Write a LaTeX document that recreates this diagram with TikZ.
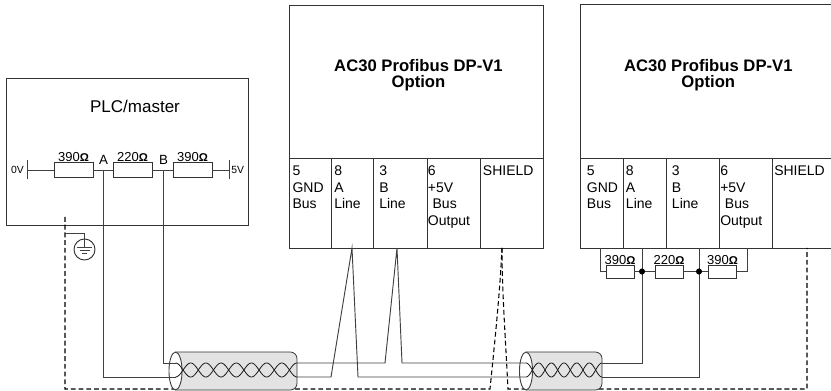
\documentclass[tikz,border=0pt]{standalone}
\usepackage{fontspec}
\setmainfont{Liberation Sans}
\usetikzlibrary{positioning}

\newcommand{\ohm}{{\bfseries\fontsize{8.5}{8.5}\selectfont Ω}}
\newcommand{\twistcable}[4]{%
    \draw[cable_body] (#2,352) -- (#3,352) -- (#3,390) -- (#2,390) ;
    \draw[wire, fill=white] (#2,371) ellipse [x radius=4.9pt, y radius=14.2pt] ;
    \draw[twist] plot[domain=#2:#3, samples=120] (\x, {370-7*cos(180*#4/(#3-#2)*(\x-#2))}) ;
    \draw[twist] plot[domain=#2:#3, samples=120] (\x, {370+7*cos(180*#4/(#3-#2)*(\x-#2))}) ;
    \coordinate (#1_lt) at (#2,363) ;
    \coordinate (#1_lb) at (#2,377) ;
    \coordinate (#1_rt) at (#3,363) ;
    \coordinate (#1_rb) at (#3,377) ;
}

\begin{document}
\begin{tikzpicture}
[
    x=0.75pt, y=-0.75pt,
    box_line/.style={draw=black!80, line width=0.7pt},
    wire/.style={draw=black!75, line width=0.7pt},
    twist/.style={draw=black!90, line width=0.6pt},
    shield_line/.style={draw=black, line width=0.8pt, dash pattern=on 3.6pt off 2.2pt},
    cable_body/.style={draw=black!80, line width=0.6pt, fill=gray!22, rounded corners=5pt},
    res_big/.style={rectangle, draw=black!80, line width=0.7pt, fill=white, inner sep=0pt, minimum width=29.25pt, minimum height=11pt, label distance=3.5pt},
    res_small/.style={rectangle, draw=black!80, line width=0.7pt, fill=white, inner sep=0pt, minimum width=21pt, minimum height=9.75pt, label distance=1.5pt},
    res_label/.style={font=\fontsize{9.75}{10}\selectfont, inner sep=0pt},
    title_text/.style={font=\bfseries\fontsize{12.5}{12}\selectfont, align=center, anchor=north, inner sep=0pt},
    term_text/.style={font=\fontsize{10.5}{12.5}\selectfont, align=left, anchor=north west, inner sep=0pt},
    small_text/.style={font=\fontsize{7.8}{8}\selectfont, inner sep=0pt},
    pin_text/.style={font=\fontsize{10}{10}\selectfont, anchor=base, inner sep=0pt},
    earth_circle/.style={circle, draw=black!80, line width=0.7pt, fill=white, minimum size=15.75pt, inner sep=0pt},
]
    \useasboundingbox (0,0) rectangle (831,391) ;

    % PLC / master
    \draw[box_line] (6,78) rectangle (248,225) ;
    \node[font=\fontsize{12.75}{15}\selectfont, anchor=base, inner sep=0pt] (plc_title) at (135,112.5) {PLC/master} ;
    \coordinate (p_0v) at (27,170) ;
    \coordinate (p_5v) at (229,170) ;
    \coordinate (p_a) at (103,170) ;
    \coordinate (p_b) at (163,170) ;
    \node[small_text, anchor=east] (t_0v) at (24,170) {0V} ;
    \node[small_text, anchor=west] (t_5v) at (231,170) {5V} ;
    \node[pin_text] (t_a) at (103.5,165) {A} ;
    \node[pin_text] (t_b) at (163.5,165) {B} ;

    % AC30 option, middle
    \draw[box_line] (289,5) rectangle (543,248) ;
    \draw[box_line] (289,158) -- (543,158) ;
    \foreach \xx in {331,373,427,480} \draw[box_line] (\xx,158) -- (\xx,248) ;
    \node[title_text] (m_title) at (418.5,58.8) {AC30 Profibus DP-V1\\Option} ;
    \node[term_text] (m_t5) at (292.3,165.5) {5\\GND\\Bus} ;
    \node[term_text] (m_t8) at (334,165.5) {8\\A\\Line} ;
    \node[term_text] (m_t3) at (379,165.5) {3\\B\\Line} ;
    \node[term_text] (m_t6) at (427.7,165.5) {6\\+5V\\\hspace*{3.5pt}Bus\\Output} ;
    \node[term_text] (m_sh_text) at (482.7,165.5) {SHIELD} ;
    \coordinate (m_a) at (352,248) ;
    \coordinate (m_b) at (397,248) ;
    \coordinate (m_sh) at (502,248) ;

    % AC30 option, right
    \draw[box_line] (580,4) rectangle (836,248) ;
    \draw[box_line] (580,158) -- (836,158) ;
    \foreach \xx in {623,666,719,772} \draw[box_line] (\xx,158) -- (\xx,248) ;
    \node[title_text] (r_title) at (708.3,59.5) {AC30 Profibus DP-V1\\Option} ;
    \node[term_text] (r_t5) at (586.7,165.5) {5\\GND\\Bus} ;
    \node[term_text] (r_t8) at (625.7,165.5) {8\\A\\Line} ;
    \node[term_text] (r_t3) at (671.7,165.5) {3\\B\\Line} ;
    \node[term_text] (r_t6) at (720,165.5) {6\\+5V\\\hspace*{3.5pt}Bus\\Output} ;
    \node[term_text] (r_sh_text) at (774,165.5) {SHIELD} ;
    \coordinate (r_gnd) at (600,248) ;
    \coordinate (r_a) at (642,248) ;
    \coordinate (r_b) at (699,248) ;
    \coordinate (r_5v) at (747,248) ;
    \coordinate (r_sh) at (807,248) ;

    % shield and earth
    \coordinate (gnd_top) at (65,217) ;
    \coordinate (gnd_tap) at (65,233) ;
    \draw[shield_line] (gnd_top) -- (65,389) -- (490,389) .. controls (496,330) and (500,290) .. (m_sh) ;
    \draw[shield_line] (m_sh) .. controls (502,290) and (505,330) .. (508,389) -- (807,389) -- (r_sh) ;
    \node[earth_circle] (earth) at (84.5,249.5) {} ;
    \draw[wire] (gnd_tap) -| (earth.north) ;
    \draw[wire] (earth.north) -- ++(0,8.5) ;
    \draw[wire] (earth.center) ++(-7.2,-1.8) -- ++(14.4,0) ;
    \draw[wire] (earth.center) ++(-5,1.2) -- ++(10,0) ;
    \draw[wire] (earth.center) ++(-2.2,4) -- ++(4.4,0) ;

    % cables
    \twistcable{cab1}{175.5}{297}{8}
    \twistcable{cab2}{526}{602}{6}

    % bus lines
    \draw[wire] (p_a) |- (cab1_lb) ;
    \draw[wire] (p_b) |- (cab1_lt) ;
    \draw[wire] (cab1_rb) -- (331,377) -- (m_a) -- (358,377) -- (cab2_lb) ;
    \draw[wire] (cab1_rt) -- (385,363) -- (m_b) -- (402,363) -- (cab2_lt) ;
    \draw[wire] (cab2_rt) -| (r_a) ;
    \draw[wire] (cab2_rb) -| (r_b) ;

    % terminating resistors
    \node[res_big, label={[res_label]above:390\ohm}] (p_r1) at (73.5,170) {} ;
    \node[res_big, label={[res_label]above:220\ohm}] (p_r2) at (132.5,170) {} ;
    \node[res_big, label={[res_label]above:390\ohm}] (p_r3) at (192.5,170) {} ;
    \draw[wire] (p_0v) -- (p_r1) -- (p_r2) -- (p_r3) -- (p_5v) ;
    \draw[wire] (p_0v) ++(0,-9.5) -- ++(0,19) ;
    \draw[wire] (p_5v) ++(0,-9.5) -- ++(0,19) ;

    \node[res_small, label={[res_label]above:390\ohm}] (r_r1) at (620,271.5) {} ;
    \node[res_small, label={[res_label]above:220\ohm}] (r_r2) at (669,271.5) {} ;
    \node[res_small, label={[res_label]above:390\ohm}] (r_r3) at (722.5,271.5) {} ;
    \draw[wire] (r_gnd) |- (r_r1.west) ;
    \draw[wire] (r_r1) -- (r_r2) -- (r_r3) ;
    \draw[wire] (r_r3.east) -| (r_5v) ;
    \fill[black] (r_a |- r_r1) circle [radius=2.3pt] ;
    \fill[black] (r_b |- r_r1) circle [radius=2.3pt] ;
\end{tikzpicture}
\end{document}
